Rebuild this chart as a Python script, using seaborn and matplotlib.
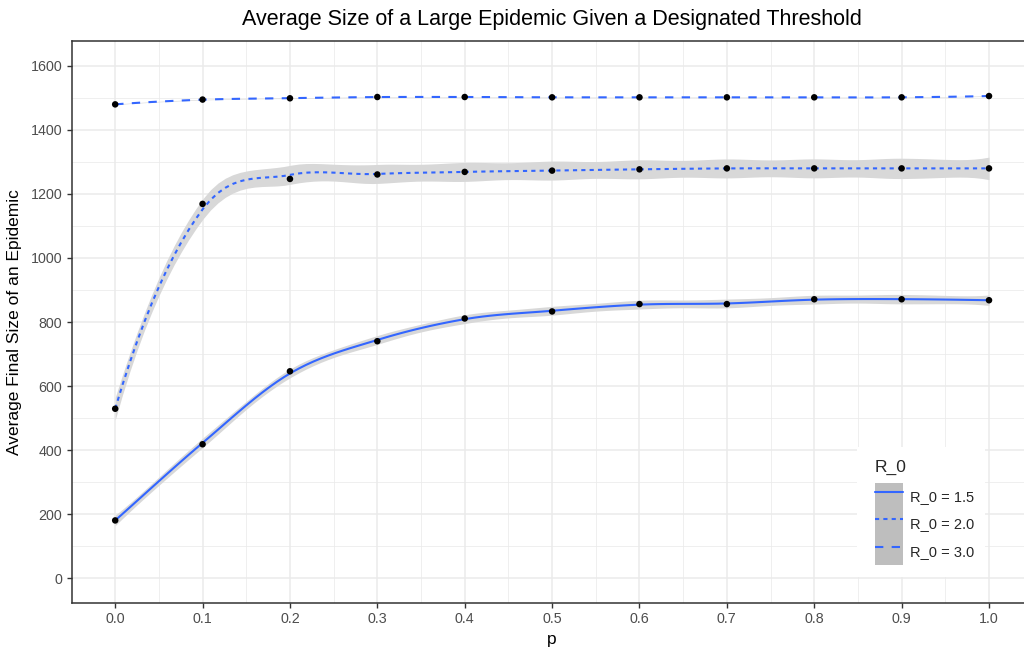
import numpy as np
import pandas as pd
import matplotlib
matplotlib.use("Agg")
import matplotlib.pyplot as plt
import seaborn as sns
from matplotlib.lines import Line2D
from matplotlib.patches import Patch, Rectangle
from matplotlib.legend_handler import HandlerTuple

# ---- data ----
p_values = [0.0, 0.1, 0.2, 0.3, 0.4, 0.5, 0.6, 0.7, 0.8, 0.9, 1.0]
size_r15 = [180, 418, 646, 740, 811, 833, 856, 856, 871, 871, 868]
size_r20 = [529, 1169, 1247, 1261, 1269, 1273, 1277, 1280, 1280, 1280, 1280]
size_r30 = [1480, 1495, 1499, 1503, 1503, 1502, 1502, 1502, 1502, 1502, 1506]
group_labels = ["R_0 = 1.5", "R_0 = 2.0", "R_0 = 3.0"]
x_ticks = [0.0, 0.1, 0.2, 0.3, 0.4, 0.5, 0.6, 0.7, 0.8, 0.9, 1.0]
y_ticks = [0, 200, 400, 600, 800, 1000, 1200, 1400, 1600]

BANDWIDTH = 0.22  # local-regression bandwidth (in p units)
Z95 = 1.959964


def vertex_fits(x, h):
    """Local quadratic (tricube) fits at each data point: rows giving value and slope."""
    n = len(x)
    Lv = np.zeros((n, n))
    Ls = np.zeros((n, n))
    for i, x0 in enumerate(x):
        d = np.abs(x - x0)
        w = np.clip(1 - (d / h) ** 3, 0, None) ** 3
        X = np.column_stack([np.ones(n), x - x0, (x - x0) ** 2])
        XtW = X.T * w
        sol = np.linalg.solve(XtW @ X, XtW)
        Lv[i] = sol[0]
        Ls[i] = sol[1]
    return Lv, Ls


def smooth(x, y, h, npts=120):
    x = np.asarray(x, float)
    y = np.asarray(y, float)
    Lv, Ls = vertex_fits(x, h)
    xs = np.linspace(x.min(), x.max(), npts)
    L = np.zeros((len(xs), len(x)))
    for k, xv in enumerate(xs):
        i = min(np.searchsorted(x, xv, side="right") - 1, len(x) - 2)
        dx = x[i + 1] - x[i]
        t = (xv - x[i]) / dx
        h00 = 2 * t**3 - 3 * t**2 + 1
        h10 = t**3 - 2 * t**2 + t
        h01 = -2 * t**3 + 3 * t**2
        h11 = t**3 - t**2
        L[k] = h00 * Lv[i] + h10 * dx * Ls[i] + h01 * Lv[i + 1] + h11 * dx * Ls[i + 1]
    res = y - Lv @ y
    n = len(x)
    df_res = n - np.trace(Lv)
    sigma = np.sqrt(np.sum(res ** 2) / df_res)
    fit = L @ y
    se = sigma * np.sqrt(np.sum(L ** 2, axis=1))
    return xs, fit, fit - Z95 * se, fit + Z95 * se


rows = []
for lab, ys in zip(group_labels, [size_r15, size_r20, size_r30]):
    for p, v in zip(p_values, ys):
        rows.append({"p": p, "size": v, "R_0": lab})
df = pd.DataFrame(rows)

sm_rows = []
bands = {}
for lab, ys in zip(group_labels, [size_r15, size_r20, size_r30]):
    xs, fit, lo, hi = smooth(p_values, ys, BANDWIDTH)
    bands[lab] = (xs, lo, hi)
    for a, b in zip(xs, fit):
        sm_rows.append({"p": a, "fit": b, "R_0": lab})
sm = pd.DataFrame(sm_rows)

# ---- style ----
sns.set_theme(style="white")
plt.rcParams["font.family"] = ["Liberation Sans", "DejaVu Sans"]

fig = plt.figure(figsize=(10.24, 6.48), dpi=100)
ax = fig.add_axes([71.5 / 1024, (648 - 603) / 648, (1032.7 - 71.5) / 1024, (603 - 41) / 648])

blue = "#3366FF"
band_col = "#D8D8D8"
for lab in group_labels:
    xs, lo, hi = bands[lab]
    ax.fill_between(xs, lo, hi, color=band_col, lw=0, zorder=2)

dash_map = {"R_0 = 1.5": "", "R_0 = 2.0": (2, 2), "R_0 = 3.0": (4, 4)}
sns.lineplot(data=sm, x="p", y="fit", style="R_0", style_order=group_labels,
             dashes=dash_map, color=blue, lw=1.5, ax=ax, legend=False, zorder=3,
             estimator=None, sort=True)
sns.scatterplot(data=df, x="p", y="size", color="black", s=22, edgecolor="none",
                ax=ax, legend=False, zorder=4)

ax.set_xlim(-0.05, 1.05)
ax.set_ylim(-78, 1678)
ax.set_xticks(x_ticks)
ax.set_xticklabels([f"{v:.1f}" for v in x_ticks])
ax.set_yticks(y_ticks)
ax.set_yticklabels([str(v) for v in y_ticks])
ax.set_xticks(np.arange(0.05, 1.0, 0.1), minor=True)
ax.set_yticks(np.arange(100, 1700, 200), minor=True)

ax.grid(which="major", color="#EBEBEB", lw=1.1)
ax.grid(which="minor", color="#EBEBEB", lw=0.55)
ax.set_axisbelow(True)
for s in ax.spines.values():
    s.set_color("#333333")
    s.set_linewidth(1.1)
ax.tick_params(which="major", length=3.5, width=1.0, color="#333333",
               labelcolor="#4D4D4D", labelsize=10.3, direction="out", pad=3)
ax.tick_params(which="minor", length=0)
ax.tick_params(axis="x", bottom=True)
ax.tick_params(axis="y", left=True)

ax.set_xlabel("p", fontsize=12.5, color="black", labelpad=4)
ax.set_ylabel("Average Final Size of an Epidemic", fontsize=12.5, color="black", labelpad=6)
fig.text(552 / 1024, 1 - 20 / 648, "Average Size of a Large Epidemic Given a Designated Threshold",
         ha="center", va="center", fontsize=15.5, color="black")

# legend background box (covers grid like ggplot's legend.background)
fig.patches.append(Rectangle((857 / 1024, 1 - 577 / 648), (985 - 857) / 1024, (577 - 447) / 648,
                             transform=fig.transFigure, facecolor="white", edgecolor="none",
                             zorder=1))

handles = []
for lab in group_labels:
    if dash_map[lab]:
        ln = Line2D([], [], color=blue, lw=1.5, linestyle=(0, dash_map[lab]))
    else:
        ln = Line2D([], [], color=blue, lw=1.5, linestyle="-")
    handles.append((Patch(facecolor="#BEBEBE", edgecolor="none"), ln))
leg = fig.legend(handles, group_labels, title="R_0", loc="upper left",
                 bbox_to_anchor=(875 / 1024, 1 - 460 / 648), frameon=False,
                 fontsize=10.5, title_fontsize=12.5, handlelength=1.92, handleheight=2.525,
                 labelspacing=0, handletextpad=0.5, borderpad=0, borderaxespad=0,
                 handler_map={tuple: HandlerTuple(ndivide=1, pad=0)})
leg._legend_box.align = "left"
leg._legend_box.sep = 5.5
leg.set_zorder(5)

fig.savefig("out.png", dpi=100)
